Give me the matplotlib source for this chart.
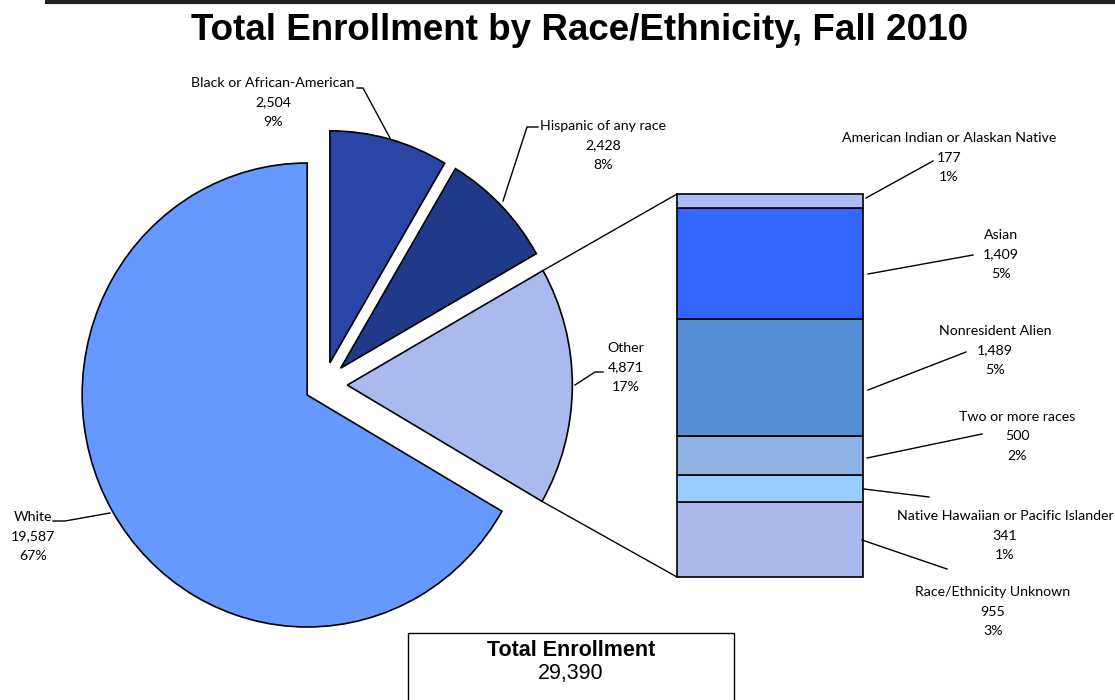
import matplotlib
matplotlib.use('Agg')
import matplotlib.pyplot as plt
import numpy as np

# ── Data ───────────────────────────────────────────────────────────────────
main_labels = ['Black or African-American', 'Hispanic of any race', 'Other', 'White']
main_values = [2504, 2428, 4871, 19587]
main_colors = ['#2A45A6', '#1F3A89', '#AAB9EE', '#6699FF']

sub_labels = ['American Indian or Alaskan Native', 'Asian', 'Nonresident Alien',
              'Two or more races', 'Native Hawaiian or Pacific Islander',
              'Race/Ethnicity Unknown']
sub_values = [177, 1409, 1489, 500, 341, 955]
sub_colors = ['#AABBF5', '#3366FF', '#558ED5', '#8DB1E2', '#99CCFF', '#AAB8EC']

total = sum(main_values)

W, H = 1115, 700
def px(x, y):
    # pixel position (y measured from the top) -> axes data
    return (x, H - y)

LABEL_FONT = ['Lato', 'DejaVu Sans']
LABEL_SIZE = 10.2

fig = plt.figure(figsize=(W / 100, H / 100), dpi=100)

# ── Pie (own axes, slightly squeezed horizontally like the original) ───────
ax_pie = fig.add_axes([0, 0, 1, 1])
squeeze = 0.97
pie_cx, pie_cy = px(324, 385)
radius = 232
wedges, _ = ax_pie.pie(main_values, colors=main_colors, startangle=90,
                       counterclock=False, radius=radius, center=(pie_cx, pie_cy),
                       explode=[23, 24, 24, 20],
                       wedgeprops=dict(edgecolor='black', linewidth=1.2))
ax_pie.set_aspect('auto')
ax_pie.set_xlim(pie_cx - pie_cx / squeeze, pie_cx + (W - pie_cx) / squeeze)
ax_pie.set_ylim(0, H)
ax_pie.axis('off')

def pie_to_px(x):
    return pie_cx + (x - pie_cx) * squeeze

ax = fig.add_axes([0, 0, 1, 1])
ax.patch.set_alpha(0)

# ── Bar of "Other" ─────────────────────────────────────────────────────────
bar_x, bar_w = 770, 186
bar_bottom, bar_h = H - 577, 383
scale = bar_h / sum(sub_values)
heights = [v * scale for v in sub_values[::-1]]
bottoms = bar_bottom + np.concatenate([[0], np.cumsum(heights)[:-1]])
rects = ax.bar(bar_x, heights, width=bar_w, bottom=bottoms,
               color=sub_colors[::-1], edgecolor='black', linewidth=1.2)

# connector lines from the Other wedge to the bar
ow = wedges[2]
cx, cy = ow.center
for ang, rect_i, top in [(ow.theta2, -1, True), (ow.theta1, 0, False)]:
    x0 = pie_to_px(cx + ow.r * np.cos(np.radians(ang)))
    y0 = cy + ow.r * np.sin(np.radians(ang))
    r = rects[rect_i]
    y1 = r.get_y() + r.get_height() if top else r.get_y()
    ax.plot([x0, r.get_x()], [y0, y1], color='black', lw=1)

# ── Labels ─────────────────────────────────────────────────────────────────
def pct(v):
    return f'{round(100 * v / total):.0f}%'

main_pos = [(273, 83), (603, 126), (626, 348), (33, 517)]
main_leaders = [[(357, 88), (363, 88), (390, 138)],
                [(538, 127), (527, 127), (503, 201)],
                [(603, 372), (595, 372), (575, 385)],
                [(53, 521), (65, 521), (110, 513)]]
for lab, v, pos, ld in zip(main_labels, main_values, main_pos, main_leaders):
    x, y = pos
    for i, s in enumerate([lab, f'{v:,}', pct(v)]):
        ax.text(*px(x, y + i * 19.5), s, ha='center', va='center',
                family=LABEL_FONT, fontsize=LABEL_SIZE)
    xs, ys = zip(*[px(a, b) for a, b in ld])
    ax.plot(xs, ys, color='black', lw=1)

sub_pos = [(949, 138), (1001, 235), (995, 331), (1017, 417), (1005, 516), (993, 592)]
sub_leaders = [[(866, 198), (933, 161)],
               [(868, 274), (973, 255)],
               [(868, 390), (966, 352)],
               [(867, 458), (982, 434)],
               [(864, 489), (929, 497)],
               [(862, 540), (947, 569)]]
for lab, v, pos, ld in zip(sub_labels, sub_values, sub_pos, sub_leaders):
    x, y = pos
    for i, s in enumerate([lab, f'{v:,}', pct(v)]):
        ax.text(*px(x, y + i * 19.5), s, ha='center', va='center',
                family=LABEL_FONT, fontsize=LABEL_SIZE)
    xs, ys = zip(*[px(a, b) for a, b in ld])
    ax.plot(xs, ys, color='black', lw=1)

# ── Title, rule and total box ──────────────────────────────────────────────
ax.plot([45, W], [H - 2, H - 2], color='#222222', lw=3, solid_capstyle='butt')
ax.text(*px(580, 31), 'Total Enrollment by Race/Ethnicity, Fall 2010',
        ha='center', va='center', fontsize=26.5, fontweight='bold',
        family=['Liberation Sans', 'DejaVu Sans'])

ax.add_patch(plt.Rectangle(px(408, 705), 326, 72, facecolor='white',
                           edgecolor='black', lw=1))
ax.text(*px(571, 650), 'Total Enrollment', ha='center', va='center',
        fontsize=15.5, fontweight='bold', family=['Liberation Sans', 'DejaVu Sans'])
ax.text(*px(571, 673), f'{total:,}', ha='center', va='center',
        fontsize=15.5, family=['Liberation Sans', 'DejaVu Sans'])

ax.set_xlim(0, W)
ax.set_ylim(0, H)
ax.axis('off')

fig.savefig('out.png', dpi=100, facecolor='white')
